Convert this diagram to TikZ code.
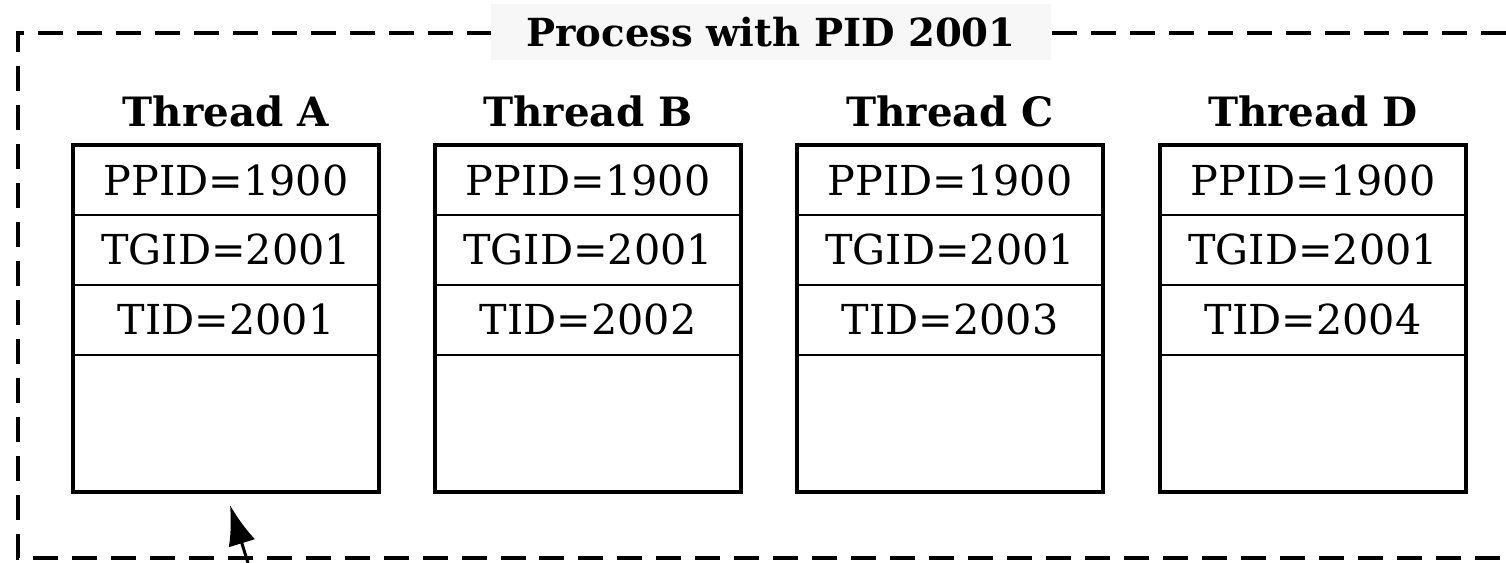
\documentclass[tikz,border=0pt]{standalone}
\usepackage{fontspec}
\setmainfont{DejaVu Serif}
\usetikzlibrary{arrows.meta,positioning}
\definecolor{titlebg}{RGB}{247,247,247}

\begin{document}
\begin{tikzpicture}[x=0.02cm, y=0.02cm, >=Latex,
    cell/.style={draw, line width=1.1pt, outer sep=0pt, inner sep=0pt,
      minimum width=6.12cm, minimum height=1.4cm, font=\fontsize{23.5}{28}\selectfont},
    thead/.style={inner sep=0pt, font=\fontsize{23}{27}\selectfont\bfseries}]
  \useasboundingbox (0,0) rectangle (1506,563);
  % process frame, open to the right
  \draw[line width=2.6pt, dash pattern=on 0.5cm off 0.28cm]
    (1506,530) -- (18,530) -- (18,5) -- (1506,5);
  \node[fill=titlebg, minimum width=11.2cm, minimum height=1.12cm,
    font=\fontsize{22}{26}\selectfont\bfseries] (proc) at (771,531) {Process with PID 2001};
  \foreach \thr/\cx/\tidv in {A/226/2001, B/588/2002, C/950/2003, D/1313/2004} {
    \node[cell, anchor=north] (\thr1) at (\cx,418) {PPID=1900};
    \node[cell, below=0pt of \thr1] (\thr2) {TGID=2001};
    \node[cell, below=0pt of \thr2] (\thr3) {TID=\tidv};
    \node[cell, below=0pt of \thr3, minimum height=2.74cm] (\thr4) {};
    \draw[line width=2.2pt] (\thr1.north west) rectangle (\thr4.south east);
    \node[thead, above=0.36cm of \thr1] (h\thr) {Thread \thr};
  }
  \coordinate (tail) at (248,0);
  \coordinate (tip) at (230,58);
  \draw[-{Latex[length=0.8cm,width=0.55cm]}, line width=1.7pt] (tail) -- (tip);
\end{tikzpicture}
\end{document}
